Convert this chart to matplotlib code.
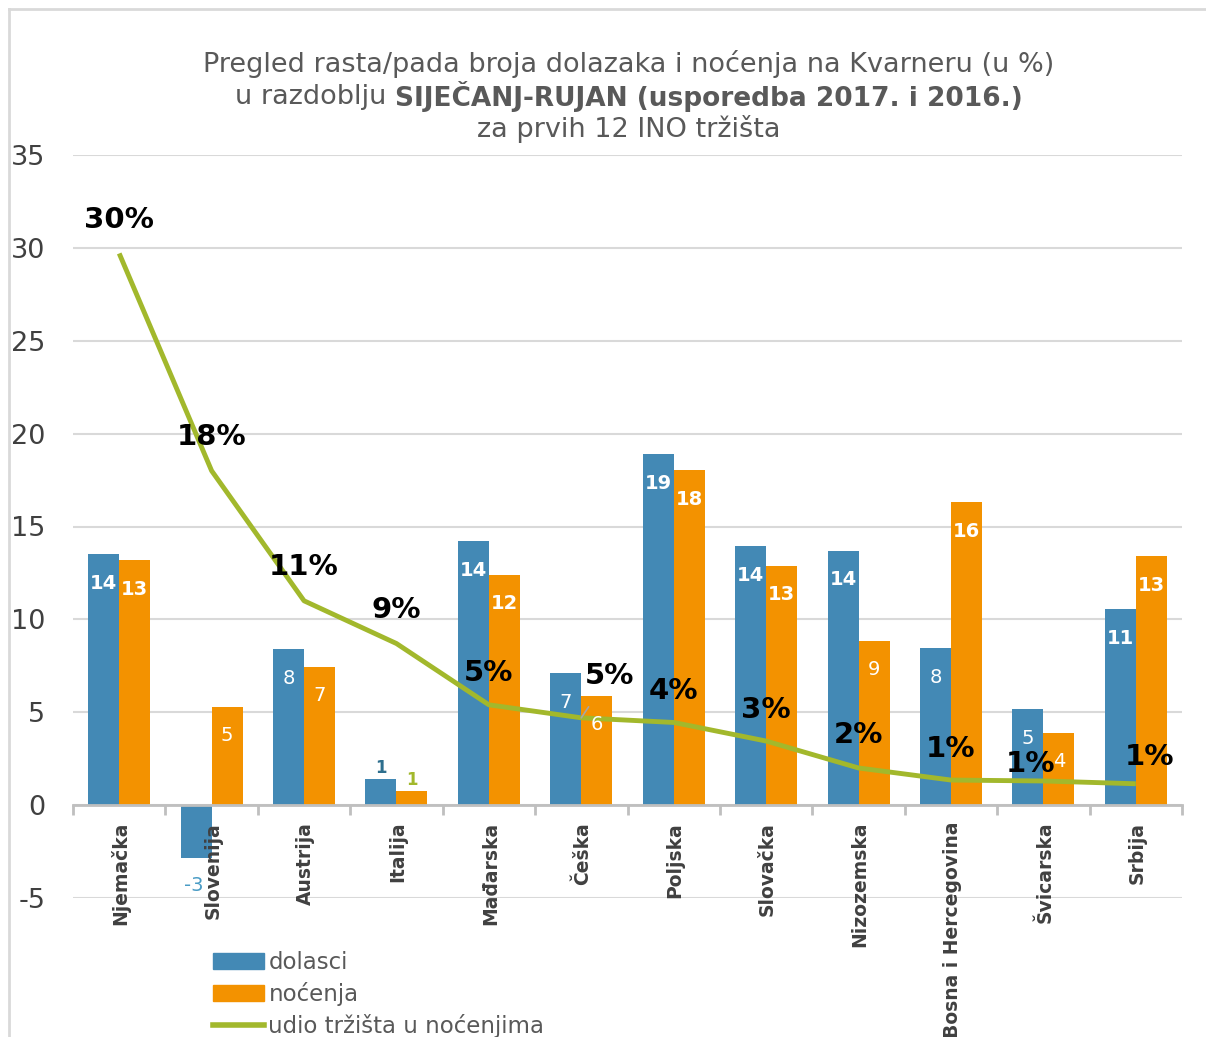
import matplotlib.pyplot as plt
import numpy as np
from matplotlib.lines import Line2D
from matplotlib.patches import Patch

plt.rcParams["font.family"] = ["DejaVu Sans"]
plt.rcParams["axes.unicode_minus"] = False

# data
zemlje = ["Njemačka", "Slovenija", "Austrija", "Italija", "Mađarska", "Češka",
          "Poljska", "Slovačka", "Nizozemska", "Bosna i Hercegovina",
          "Švicarska", "Srbija"]
dolasci = [13.5, -2.85, 8.4, 1.4, 14.2, 7.1, 18.9, 13.95, 13.7, 8.45, 5.15, 10.55]
nocenja = [13.2, 5.3, 7.45, 0.75, 12.4, 5.9, 18.05, 12.9, 8.85, 16.3, 3.9, 13.4]
udio = [29.7, 18.0, 11.0, 8.7, 5.4, 4.7, 4.45, 3.45, 2.0, 1.35, 1.3, 1.15]

c_blue = "#4389b5"
c_orange = "#f39200"
c_green = "#a2b82c"
grey_txt = "#595959"

fig = plt.figure(figsize=(12.06, 10.37), dpi=100)
ax = fig.add_axes([73 / 1206, 1 - 898 / 1037, (1182 - 73) / 1206, (898 - 155) / 1037])

x = np.arange(len(zemlje))
w = 0.335
ax.bar(x - w / 2, dolasci, w, color=c_blue, zorder=2)
ax.bar(x + w / 2, nocenja, w, color=c_orange, zorder=2)
ax.plot(x, udio, color=c_green, lw=3.5, zorder=3, solid_capstyle="butt")

ax.set_xlim(-0.5, len(zemlje) - 0.5)
ax.set_ylim(-5, 35)
ax.set_yticks(np.arange(-5, 36, 5))
ax.yaxis.grid(True, color="#d9d9d9", lw=1.5, zorder=0)
ax.tick_params(axis="y", length=0, labelsize=19.5, labelcolor="#404040", pad=20)
for s in ["top", "right", "left"]:
    ax.spines[s].set_visible(False)
ax.spines["bottom"].set_position(("data", 0))
ax.spines["bottom"].set_color("#bfbfbf")
ax.spines["bottom"].set_linewidth(2)
ax.spines["bottom"].set_zorder(4)
ax.set_xticks(np.arange(-0.5, len(zemlje), 1))
ax.set_xticklabels([])
ax.tick_params(axis="x", direction="out", length=7, width=2, color="#bfbfbf")

# category names hanging under the zero line
for i, z in enumerate(zemlje):
    ax.annotate(z, (i, 0), xytext=(1, -12), textcoords="offset points",
                rotation=90, ha="center", va="top", fontsize=13.5,
                fontweight="bold", color="#404040", annotation_clip=False)

# value labels on bars
for i in range(len(zemlje)):
    for val, xo, col in [(dolasci[i], x[i] - w / 2, c_blue), (nocenja[i], x[i] + w / 2, c_orange)]:
        txt = "%d" % round(val)
        if zemlje[i] == "Italija":
            tc = "#2e6f8e" if col == c_blue else c_green
            ax.annotate(txt, (xo, val), xytext=(0, 8), textcoords="offset points",
                        ha="center", va="center", fontsize=12, fontweight="bold", color=tc)
        elif val < 0:
            ax.annotate(txt, (xo, val), xytext=(-2, -20), textcoords="offset points",
                        ha="center", va="center", fontsize=14, color="#4a9cc5")
        else:
            ax.annotate(txt, (xo, val), xytext=(0, -21), textcoords="offset points",
                        ha="center", va="center", fontsize=14, color="white",
                        fontweight="bold" if len(txt) > 1 else "normal", zorder=5)

# market share labels
offs = [(0, 24), (0, 24), (0, 24), (0, 24), (0, 23), (20, 30), (0, 23),
        (0, 22), (0, 24), (0, 22), (-9, 12), (10, 19)]
for i, (u, o) in enumerate(zip(udio, offs)):
    kw = {}
    if zemlje[i] == "Češka":
        kw = dict(arrowprops=dict(arrowstyle="-", color="#a6a6a6", lw=1.2,
                                  shrinkA=12, shrinkB=0))
    ax.annotate("%d%%" % round(u), (i, u), xytext=o, textcoords="offset points",
                ha="center", va="center", fontsize=21, fontweight="bold",
                color="black", zorder=6, **kw)

# title with a bold part on line two
tsize = 19.5
fig.text(629 / 1206, 1 - 64 / 1037, "Pregled rasta/pada broja dolazaka i noćenja na Kvarneru (u %)",
         ha="center", va="center", fontsize=tsize, color=grey_txt)
fig.text(629 / 1206, 1 - 129 / 1037, "za prvih 12 INO tržišta",
         ha="center", va="center", fontsize=tsize, color=grey_txt)
t1 = fig.text(0, 1 - 97 / 1037, "u razdoblju ", ha="left", va="center",
              fontsize=tsize, color=grey_txt)
t2 = fig.text(0, 1 - 97 / 1037, "SIJEČANJ-RUJAN (usporedba 2017. i 2016.)",
              ha="left", va="center", fontsize=tsize - 0.5, color=grey_txt, fontweight="bold")
r = fig.canvas.get_renderer()
w1 = t1.get_window_extent(r).width
w2 = t2.get_window_extent(r).width
start = 629 - (w1 + w2) / 2
t1.set_x(start / 1206)
t2.set_x((start + w1) / 1206)

# legend
handles = [Patch(color=c_blue), Patch(color=c_orange),
           Line2D([], [], color=c_green, lw=4)]
fig.legend(handles, ["dolasci", "noćenja", "udio tržišta u noćenjima"],
           loc="upper left", bbox_to_anchor=(202 / 1206, 1 - 940 / 1037),
           frameon=False, fontsize=16.5, labelcolor=grey_txt, handlelength=2.2,
           handleheight=0.7, handletextpad=0.2, labelspacing=0.35, borderpad=0)

# outer frame of the chart
fig.add_artist(Line2D([9 / 1206, 9 / 1206], [0, 1 - 9 / 1037], color="#d9d9d9", lw=2))
fig.add_artist(Line2D([9 / 1206, 1], [1 - 9 / 1037, 1 - 9 / 1037], color="#d9d9d9", lw=2))

fig.savefig("out.png", dpi=100)
